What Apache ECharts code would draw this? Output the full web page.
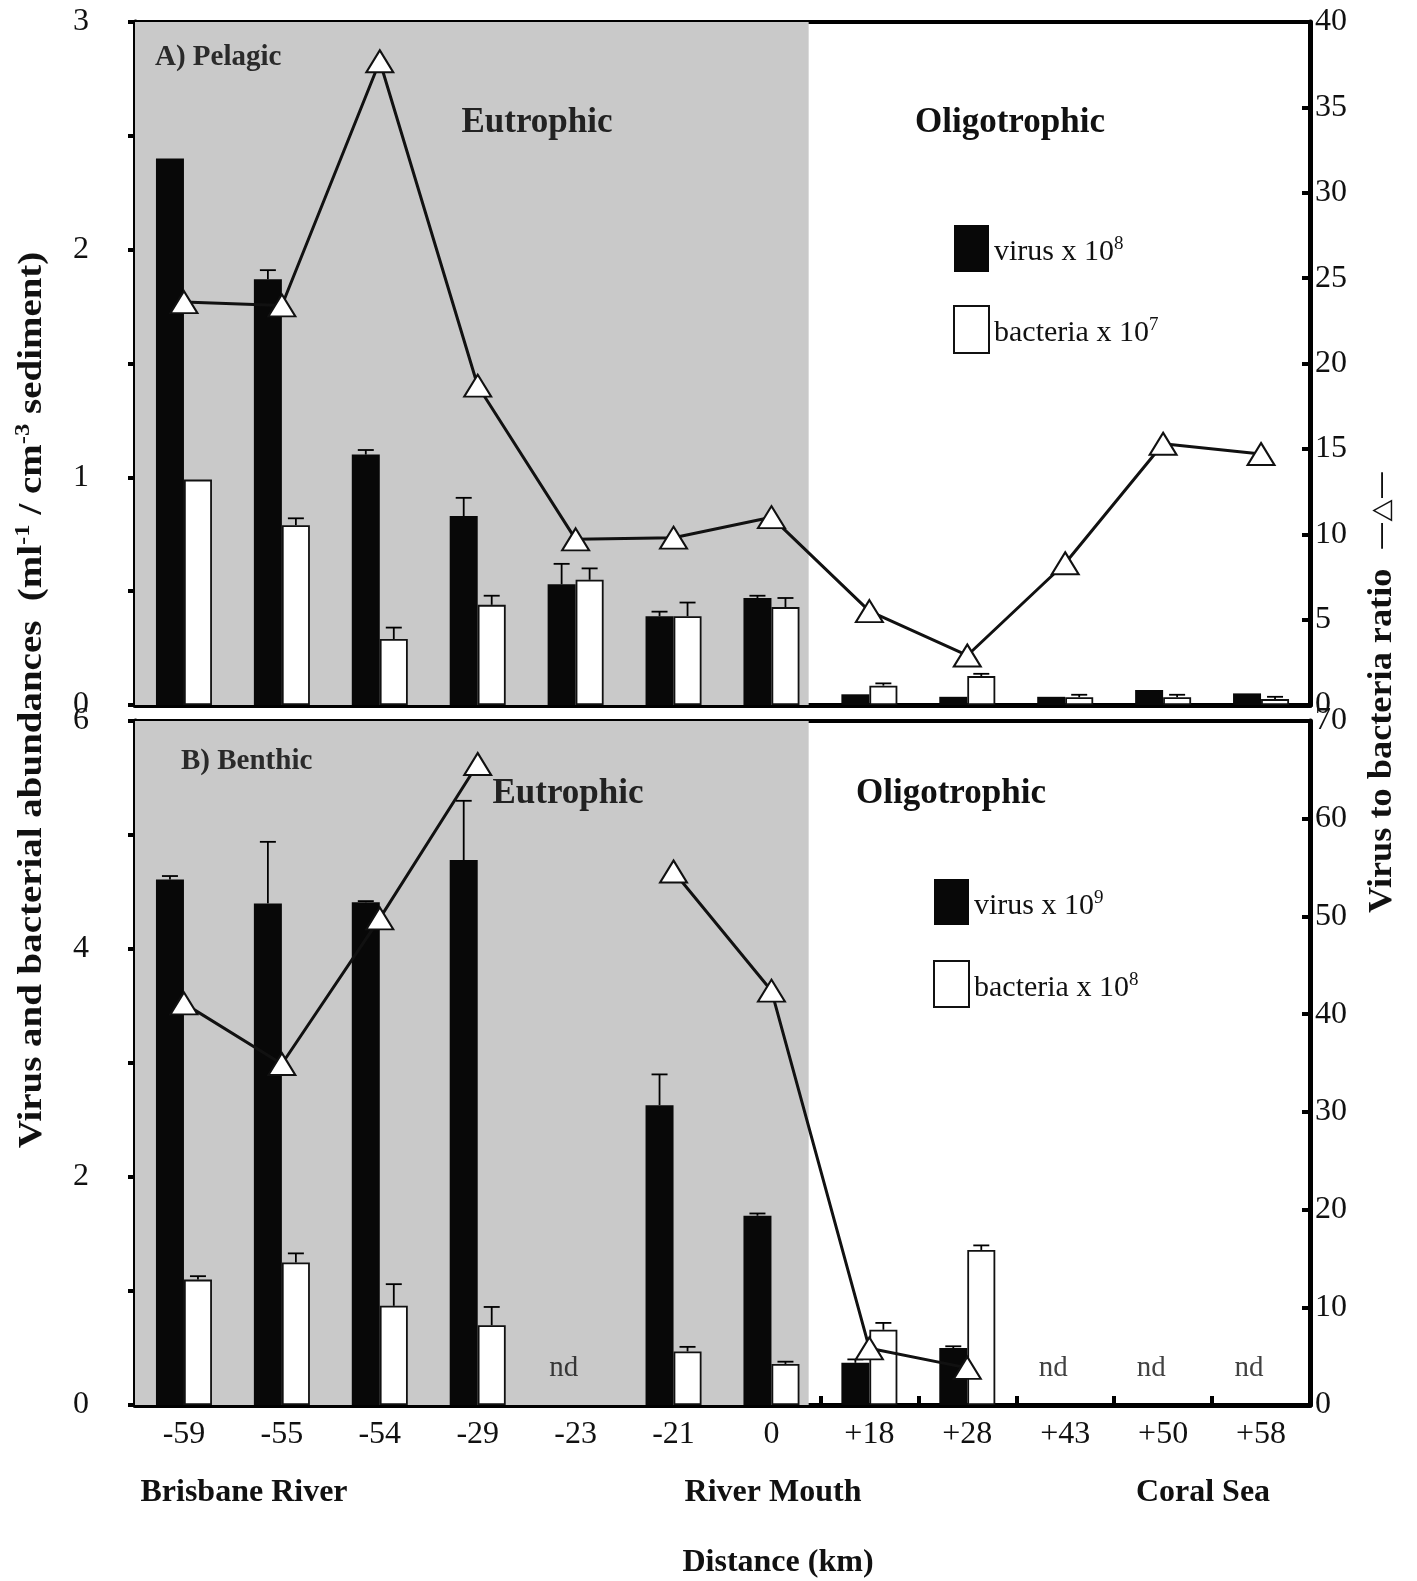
<!DOCTYPE html>
<html>
<head>
<meta charset="utf-8">
<script src="https://cdn.jsdelivr.net/npm/echarts@6/dist/echarts.min.js"></script>
<style>
  html, body { margin: 0; padding: 0; background: #fff; }
  #chart { width: 1417px; height: 1581px; }
</style>
</head>
<body>
<div id="chart"></div>
<script>
// sampling stations, distance from the river mouth (km)
const categories = ['-59', '-55', '-54', '-29', '-23', '-21', '0', '+18', '+28', '+43', '+50', '+58'];

// A) pelagic
const pelagicVirus = [2.40, 1.87, 1.10, 0.83, 0.53, 0.39, 0.47, 0.047, 0.036, 0.036, 0.066, 0.051];
const pelagicVirusSd = [0, 0.04, 0.02, 0.08, 0.09, 0.02, 0.01, 0, 0, 0, 0, 0];
const pelagicBacteria = [0.99, 0.79, 0.29, 0.44, 0.55, 0.39, 0.43, 0.085, 0.127, 0.034, 0.034, 0.026];
const pelagicBacteriaSd = [0, 0.03, 0.05, 0.04, 0.05, 0.06, 0.04, 0.01, 0.01, 0.011, 0.011, 0.01];
const pelagicRatio = [23.6, 23.4, 37.7, 18.7, 9.7, 9.8, 11.0, 5.5, 2.9, 8.3, 15.3, 14.7];

// B) benthic (null = not determined)
const benthicVirus = [4.61, 4.40, 4.41, 4.78, null, 2.63, 1.66, 0.37, 0.50, null, null, null];
const benthicVirusSd = [0.03, 0.54, 0.01, 0.52, null, 0.27, 0.02, 0.03, 0.015, null, null, null];
const benthicBacteria = [1.10, 1.25, 0.87, 0.70, null, 0.47, 0.36, 0.66, 1.36, null, null, null];
const benthicBacteriaSd = [0.03, 0.08, 0.19, 0.16, null, 0.04, 0.02, 0.06, 0.04, null, null, null];
const benthicRatio = [41.1, 34.9, 49.8, 65.6, null, 54.6, 42.4, 5.8, 3.8, null, null, null];

// eutrophic zone runs from the first station to just past "0"
const eutrophicEnd = 6.88;

const FONT = "'Liberation Serif', 'Times New Roman', serif";
const BAR_W = 28;
const GRAY = '#c9c9c9';

const chart = echarts.init(document.getElementById('chart'));

// error bar (upward only) drawn through the axis scales
function errorBars(values, sds, offset, xIdx, yIdx) {
  const data = [];
  values.forEach((v, i) => {
    if (v != null && sds[i]) data.push([i, v, v + sds[i]]);
  });
  return {
    type: 'custom',
    xAxisIndex: xIdx,
    yAxisIndex: yIdx,
    z: 3,
    silent: true,
    data: data,
    renderItem: (params, api) => {
      const base = api.coord([api.value(0), api.value(1)]);
      const top = api.coord([api.value(0), api.value(2)]);
      const x = base[0] + offset;
      const style = { stroke: '#000', lineWidth: 1.8 };
      return {
        type: 'group',
        children: [
          { type: 'line', shape: { x1: x, y1: base[1], x2: x, y2: top[1] }, style },
          { type: 'line', shape: { x1: x - 8, y1: top[1], x2: x + 8, y2: top[1] }, style }
        ]
      };
    }
  };
}

function barSeries(name, values, filled, xIdx, yIdx) {
  return {
    name: name,
    type: 'bar',
    xAxisIndex: xIdx,
    yAxisIndex: yIdx,
    barWidth: BAR_W,
    barGap: '0%',
    z: 2,
    data: values,
    itemStyle: filled
      ? { color: '#080808', borderColor: '#080808', borderWidth: 0 }
      : { color: '#ffffff', borderColor: '#111', borderWidth: 1.8 }
  };
}

function ratioSeries(values, xIdx, yIdx) {
  return {
    type: 'line',
    xAxisIndex: xIdx,
    yAxisIndex: yIdx,
    data: values,
    connectNulls: false,
    z: 5,
    symbol: 'triangle',
    symbolSize: [27, 22],
    lineStyle: { color: '#111', width: 3 },
    itemStyle: { color: '#fff', borderColor: '#111', borderWidth: 2 }
  };
}

function shadeSeries(xIdx, yIdx) {
  return {
    type: 'line',
    xAxisIndex: xIdx,
    yAxisIndex: yIdx,
    data: [[0, 0]],
    showSymbol: false,
    silent: true,
    z: 0,
    lineStyle: { width: 0 },
    markArea: {
      silent: true,
      itemStyle: { color: GRAY },
      data: [[{ xAxis: 0 }, { xAxis: eutrophicEnd }]]
    }
  };
}

const legendRich = {
  t: { fontSize: 30, fontFamily: FONT, color: '#111' },
  s: { fontSize: 19, fontFamily: FONT, color: '#111', padding: [0, 0, 16, 0] }
};
const legendLabels = {
  virusA: ['virus x 10', '8'],
  bacteriaA: ['bacteria x 10', '7'],
  virusB: ['virus x 10', '9'],
  bacteriaB: ['bacteria x 10', '8']
};
const legendFmt = name => '{t|' + legendLabels[name][0] + '}{s|' + legendLabels[name][1] + '}';

const axisLine = { show: true, lineStyle: { color: '#000', width: 5 } };
const tickLabel = { fontFamily: FONT, fontSize: 32, color: '#111' };

const valueAxisHidden = { type: 'value', min: 0, max: 12, show: false };

const titleText = (x, y, text, size, fill, align) => ({
  type: 'text', x: x, y: y, z: 100,
  style: {
    text: text, fontFamily: FONT, fontSize: size, fontWeight: 'bold', fill: fill,
    align: align || 'center', verticalAlign: 'middle'
  }
});

const option = {
  animation: false,
  backgroundColor: '#fff',
  grid: [
    { left: 135, right: 107, top: 22, height: 683, show: true, borderColor: '#000', borderWidth: 4 },
    { left: 135, right: 107, top: 721, height: 684, show: true, borderColor: '#000', borderWidth: 4 }
  ],
  legend: [
    {
      data: ['virusA', 'bacteriaA'], orient: 'vertical', left: 948, top: 220,
      icon: 'rect', itemWidth: 35, itemHeight: 47, itemGap: 33, selectedMode: false,
      formatter: legendFmt, textStyle: { rich: legendRich, padding: [8, 0, 0, 0] }
    },
    {
      data: ['virusB', 'bacteriaB'], orient: 'vertical', left: 928, top: 874,
      icon: 'rect', itemWidth: 35, itemHeight: 46, itemGap: 35, selectedMode: false,
      formatter: legendFmt, textStyle: { rich: legendRich, padding: [8, 0, 0, 0] }
    }
  ],
  xAxis: [
    {
      type: 'category', gridIndex: 0, data: categories, boundaryGap: true,
      axisLine: axisLine, axisTick: { show: false }, axisLabel: { show: false }
    },
    Object.assign({ gridIndex: 0 }, valueAxisHidden),
    {
      type: 'category', gridIndex: 1, data: categories, boundaryGap: true,
      axisLine: axisLine,
      axisTick: { show: true, inside: true, length: 9, lineStyle: { color: '#000', width: 4 } },
      axisLabel: Object.assign({ margin: 14 }, tickLabel)
    },
    Object.assign({ gridIndex: 1 }, valueAxisHidden)
  ],
  yAxis: [
    {
      type: 'value', gridIndex: 0, min: 0, max: 3, interval: 0.5, position: 'left',
      axisLine: axisLine, splitLine: { show: false },
      axisTick: { show: true, length: 7, lineStyle: { color: '#000', width: 4 } },
      axisLabel: Object.assign({ margin: 46, formatter: v => Number.isInteger(v) ? String(v) : '' }, tickLabel)
    },
    {
      type: 'value', gridIndex: 0, min: 0, max: 40, interval: 5, position: 'right',
      axisLine: axisLine, splitLine: { show: false },
      axisTick: { show: true, inside: true, length: 8, lineStyle: { color: '#000', width: 4 } },
      axisLabel: Object.assign({ margin: 5 }, tickLabel)
    },
    {
      type: 'value', gridIndex: 1, min: 0, max: 6, interval: 1, position: 'left',
      axisLine: axisLine, splitLine: { show: false },
      axisTick: { show: true, length: 7, lineStyle: { color: '#000', width: 4 } },
      axisLabel: Object.assign({ margin: 46, formatter: v => v % 2 === 0 ? String(v) : '' }, tickLabel)
    },
    {
      type: 'value', gridIndex: 1, min: 0, max: 70, interval: 10, position: 'right',
      axisLine: axisLine, splitLine: { show: false },
      axisTick: { show: true, inside: true, length: 8, lineStyle: { color: '#000', width: 4 } },
      axisLabel: Object.assign({ margin: 5 }, tickLabel)
    }
  ],
  series: [
    shadeSeries(1, 0),
    barSeries('virusA', pelagicVirus, true, 0, 0),
    barSeries('bacteriaA', pelagicBacteria, false, 0, 0),
    errorBars(pelagicVirus, pelagicVirusSd, -BAR_W / 2, 0, 0),
    errorBars(pelagicBacteria, pelagicBacteriaSd, BAR_W / 2, 0, 0),
    ratioSeries(pelagicRatio, 0, 1),

    shadeSeries(3, 2),
    barSeries('virusB', benthicVirus, true, 2, 2),
    barSeries('bacteriaB', benthicBacteria, false, 2, 2),
    errorBars(benthicVirus, benthicVirusSd, -BAR_W / 2, 2, 2),
    errorBars(benthicBacteria, benthicBacteriaSd, BAR_W / 2, 2, 2),
    ratioSeries(benthicRatio, 2, 3),
    {
      // "nd" markers where benthic samples were not determined
      type: 'scatter', xAxisIndex: 2, yAxisIndex: 2, symbolSize: 0, z: 4,
      data: categories.map((c, i) => benthicVirus[i] == null ? [c, 0] : null).filter(d => d),
      label: {
        show: true, position: 'top', distance: 22, offset: [-12, 0], formatter: 'nd',
        fontFamily: FONT, fontSize: 29, color: '#111'
      }
    }
  ],
  graphic: [
    titleText(155, 58, 'A) Pelagic', 29, '#2a2a2a', 'left'),
    titleText(537, 123, 'Eutrophic', 35, '#222'),
    titleText(1010, 123, 'Oligotrophic', 35, '#111'),
    titleText(181, 762, 'B) Benthic', 29, '#2a2a2a', 'left'),
    titleText(568, 794, 'Eutrophic', 35, '#222'),
    titleText(951, 794, 'Oligotrophic', 35, '#111'),
    {
      type: 'text', x: 32, y: 700, rotation: Math.PI / 2, scaleX: 1.18, z: 100,
      style: {
        text: '{t|Virus and bacterial abundances  (ml}{s|-1}{t| / cm}{s|-3}{t| sediment)}',
        align: 'center', verticalAlign: 'middle',
        rich: {
          t: { fontFamily: FONT, fontSize: 33, fontWeight: 'bold', fill: '#111' },
          s: { fontFamily: FONT, fontSize: 21, fontWeight: 'bold', fill: '#111', padding: [0, 0, 16, 0] }
        }
      }
    },
    {
      type: 'text', x: 1382, y: 692, rotation: Math.PI / 2, scaleX: 1.1, z: 100,
      style: {
        text: '{t|Virus to bacteria ratio}{g|   }{m|\u2014\u25B3\u2014}',
        align: 'center', verticalAlign: 'middle',
        rich: {
          t: { fontFamily: FONT, fontSize: 33, fontWeight: 'bold', fill: '#111' },
          g: { fontSize: 20 },
          m: { fontFamily: "'DejaVu Sans', sans-serif", fontSize: 26, fill: '#111' }
        }
      }
    },
    titleText(244, 1493, 'Brisbane River', 32, '#111'),
    titleText(773, 1493, 'River Mouth', 32, '#111'),
    titleText(1203, 1493, 'Coral Sea', 32, '#111'),
    titleText(778, 1563, 'Distance (km)', 32, '#111')
  ]
};

chart.setOption(option);
window.addEventListener('resize', () => chart.resize());
</script>
</body>
</html>
